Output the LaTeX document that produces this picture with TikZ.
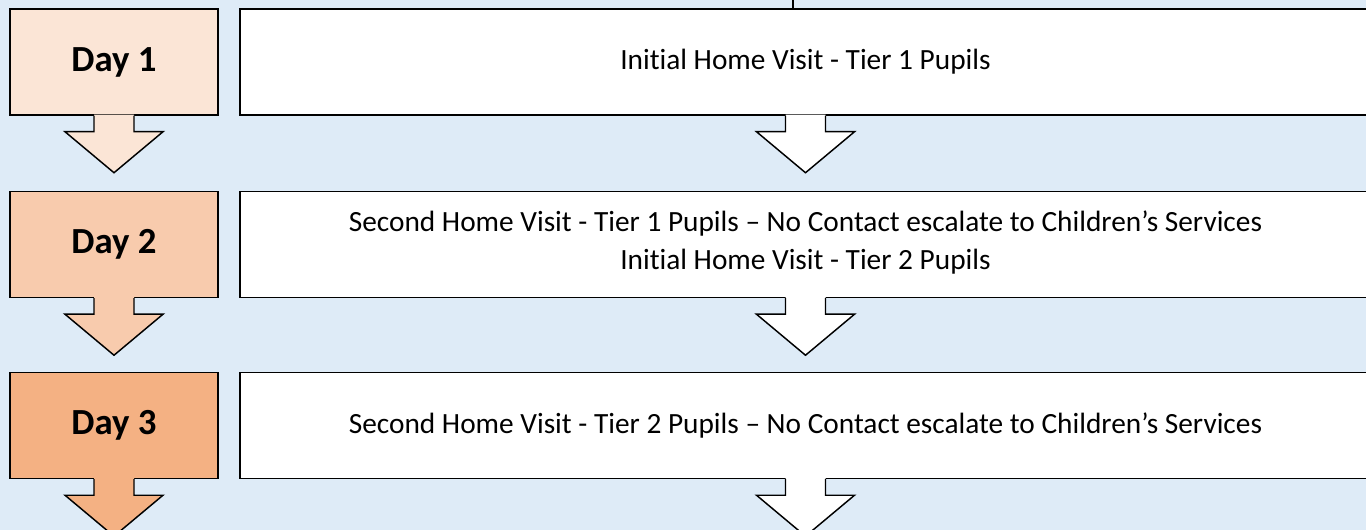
\documentclass[tikz,border=0pt]{standalone}
\usepackage{fontspec}
\setmainfont[Ligatures=NoCommon]{Carlito}
\definecolor{bgblue}{HTML}{DEEBF7}
\definecolor{dayone}{HTML}{FBE5D6}
\definecolor{daytwo}{HTML}{F8CBAD}
\definecolor{daythree}{HTML}{F4B183}
\tikzset{
	daybox/.style={draw, line width=1.1pt, minimum width=156pt, minimum height=79.5pt, inner sep=0pt, font=\fontsize{27.6}{32}\selectfont\bfseries},
	visitbox/.style={draw, fill=white, line width=1.1pt, minimum width=848.25pt, minimum height=79.5pt, inner sep=0pt, align=center, font=\fontsize{22}{28.5}\selectfont},
	arrowline/.style={line width=1.1pt, line join=miter},
}
% block arrow hanging under an anchor: #1 anchor, #2 fill colour
\newcommand\blockarrow[2]{%
	\fill[#2] ([shift={(-20,-1)}]#1) -- ++(0,17) -- ++(-29,0) -- ++(49,41) -- ++(49,-41) -- ++(-29,0) -- ++(0,-17) -- cycle;
	\draw[arrowline] ([shift={(-20,0)}]#1) -- ++(0,16) -- ++(-29,0) -- ++(49,41) -- ++(49,-41) -- ++(-29,0) -- ++(0,-16);
}
\begin{document}
\begin{tikzpicture}[x=0.75pt, y=-0.75pt]
	\fill[bgblue] (0,0) rectangle (1366,530);
	\useasboundingbox (0,0) rectangle (1366,530);
	\clip (0,0) rectangle (1366,530);
	% days
	\node[daybox, fill=dayone] (d1) at (114,62) {Day 1};
	\node[daybox, fill=daytwo] (d2) at (114,244.5) {Day 2};
	\node[daybox, fill=daythree] (d3) at (114,425.5) {Day 3};
	% visits
	\node[visitbox] (v1) at (805.5,62) {Initial Home Visit - Tier 1 Pupils};
	\node[visitbox] (v2) at (805.5,244.5) {Second Home Visit - Tier 1 Pupils – No Contact escalate to Children’s Services\\Initial Home Visit - Tier 2 Pupils\\[-22.5pt]};
	\node[visitbox] (v3) at (805.5,425.5) {Second Home Visit - Tier 2 Pupils – No Contact escalate to Children’s Services};
	% line from the stage above
	\coordinate (prev) at (793,0);
	\draw[line width=1.1pt] (prev) -- (prev |- v1.north);
	% arrows
	\blockarrow{d1.south}{dayone}
	\blockarrow{d2.south}{daytwo}
	\blockarrow{d3.south}{daythree}
	\blockarrow{v1.south}{white}
	\blockarrow{v2.south}{white}
	\blockarrow{v3.south}{white}
\end{tikzpicture}
\end{document}
